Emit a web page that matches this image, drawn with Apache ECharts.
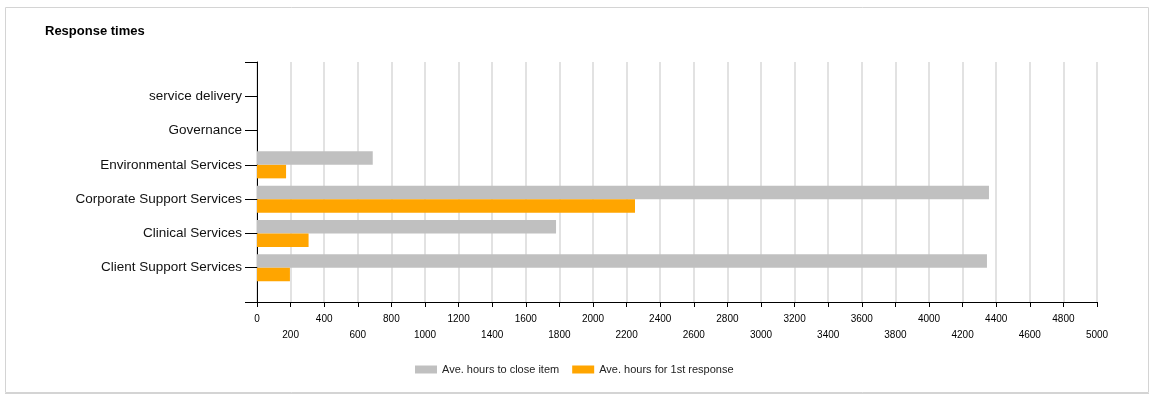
<!DOCTYPE html>
<html><head><meta charset="utf-8">
<script src="https://cdn.jsdelivr.net/npm/echarts@6/dist/echarts.min.js"></script>
<style>html,body{margin:0;padding:0;background:#fff}#c{width:1159px;height:395px}</style>
</head><body><div id="c"></div>
<script>
const categories = ['', 'Client Support Services', 'Clinical Services', 'Corporate Support Services', 'Environmental Services', 'Governance', 'service delivery', ''];
const closeHours = [null, 4345, 1780, 4357, 689, 0, 0, null];
const firstResponse = [null, 196, 307, 2250, 173, 0, 0, null];
const seriesNames = ['Ave. hours to close item', 'Ave. hours for 1st response'];
const xMin = 0, xMax = 5000, xStep = 200;

const chart = echarts.init(document.getElementById('c'), null, {renderer: 'canvas'});
const font = 'Liberation Sans, Arial, sans-serif';
chart.setOption({
  animation: false,
  textStyle: {fontFamily: font},
  title: {text: 'Response times', left: 40, top: 20,
    textStyle: {fontSize: 13, fontWeight: 'bold', color: '#000', fontFamily: font}},
  graphic: [
    {type: 'rect', shape: {x: 5.5, y: 7.5, width: 1143, height: 385}, style: {fill: 'none', stroke: '#d4d4d4', lineWidth: 1}, silent: true},
    {type: 'line', shape: {x1: 5, y1: 393.5, x2: 1149, y2: 393.5}, style: {stroke: '#d4d4d4', lineWidth: 1}, silent: true}
  ],
  legend: {left: 410, top: 359, itemWidth: 22, itemHeight: 8, itemGap: 13, icon: 'rect',
    textStyle: {fontSize: 11, color: '#222', fontFamily: font}, data: seriesNames},
  grid: {left: 257, right: 62, top: 62, bottom: 93, containLabel: false},
  xAxis: {type: 'value', min: xMin, max: xMax, interval: xStep,
    axisLine: {show: true, lineStyle: {color: '#000', width: 1}},
    axisTick: {show: true, length: 5, lineStyle: {color: '#000'}},
    splitLine: {show: true, lineStyle: {color: '#e2e2e2', width: 2}},
    axisLabel: {fontSize: 10, color: '#000', margin: 9, lineHeight: 16, fontFamily: font,
      formatter: (v, i) => (i % 2 ? '\n' : '') + v}},
  yAxis: {type: 'category', data: categories, boundaryGap: false,
    axisLine: {show: true, lineStyle: {color: '#000', width: 1}},
    axisTick: {show: true, length: 12, lineStyle: {color: '#000'}},
    splitLine: {show: false},
    axisLabel: {fontSize: 13.5, color: '#111', margin: 15, fontFamily: font, interval: 0}},
  series: [
    {name: seriesNames[0], type: 'bar', data: closeHours, barWidth: 13.5, barGap: '0%', itemStyle: {color: '#c0c0c0'}},
    {name: seriesNames[1], type: 'bar', data: firstResponse, barWidth: 13.5, barGap: '0%', itemStyle: {color: '#ffa500'}}
  ]
});
</script></body></html>
